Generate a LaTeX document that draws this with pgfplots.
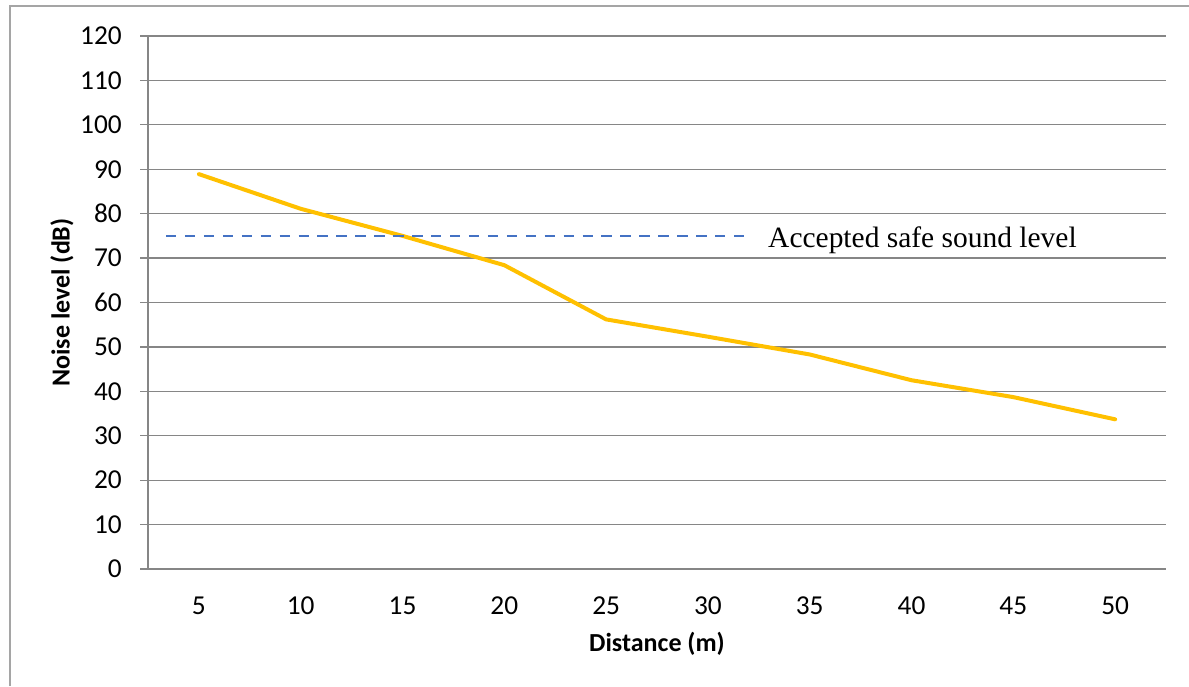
\documentclass[border=0pt]{standalone}
\usepackage{pgfplots}
\pgfplotsset{compat=1.18}
\usepackage{fontspec}
\setmainfont{Carlito}
\newfontfamily\timesfont{Liberation Serif}
\definecolor{gridgray}{RGB}{134,134,134}
\definecolor{framegray}{RGB}{165,165,165}
\definecolor{lineorange}{RGB}{255,192,0}
\definecolor{dashblue}{RGB}{68,114,196}
\begin{document}
\begin{tikzpicture}
\path[use as bounding box] (0,0) rectangle (891.75pt,514.5pt);
\draw[framegray, line width=0.9pt] (7.5pt,0) -- (7.5pt,510pt) -- (891.75pt,510pt);
\begin{axis}[
  at={(111pt,87.75pt)}, anchor=south west,
  scale only axis,
  width=763.5pt, height=399.75pt,
  xmin=-0.5, xmax=9.5, ymin=0, ymax=120,
  xtick={0,...,9},
  xticklabels={5,10,15,20,25,30,35,40,45,50},
  ytick={0,10,...,120},
  axis x line*=bottom, axis y line*=left,
  axis line style={gridgray, line width=0.9pt, -},
  ymajorgrids, grid style={gridgray, line width=0.9pt},
  xtick style={draw=none},
  ytick style={gridgray, line width=0.9pt},
  tick align=outside, major tick length=6pt,
  tick label style={font=\fontsize{20.5}{24}\selectfont},
  /pgf/number format/assume math mode=true,
  xticklabel style={anchor=base, yshift=-28pt},
  yticklabel style={anchor=east, inner sep=0pt, xshift=-13.5pt},
  xlabel={\textbf{Distance (m)}},
  ylabel={\textbf{Noise level (dB)}},
  label style={font=\fontsize{19.5}{22}\selectfont},
  xlabel style={at={(axis description cs:0.5,-0.1407)}, anchor=center},
  ylabel style={at={(axis description cs:-0.0845,0.5)}, anchor=center, rotate=0},
  clip=false,
]
\addplot[lineorange, line width=3pt, line join=round, line cap=round] coordinates {
  (0,88.9) (1,81.1) (2,75.0) (3,68.4) (4,56.2) (5,52.3) (6,48.3) (7,42.5) (8,38.7) (9,33.7)
};
\addplot[dashblue, line width=1.9pt, dash pattern=on 7.8pt off 6.4pt] coordinates {
  (-0.323,75) (5.41,75)
};
\node[anchor=base west, inner sep=0pt, font=\timesfont\fontsize{22.1}{26}\selectfont] at (axis cs:5.59,72.3) {Accepted safe sound level};
\end{axis}
\end{tikzpicture}
\end{document}
